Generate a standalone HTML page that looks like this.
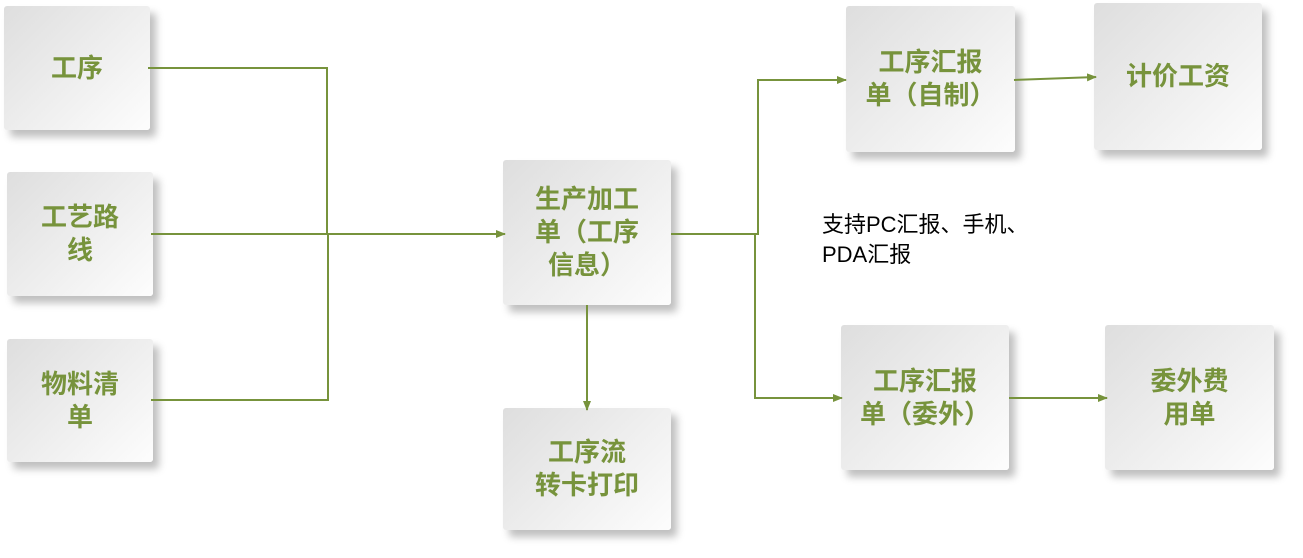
<!DOCTYPE html>
<html><head><meta charset="utf-8"><style>
body{margin:0;width:1303px;height:558px;background:#fff;position:relative;overflow:hidden;font-family:"Liberation Sans","Noto Sans CJK SC",sans-serif}
.b{position:absolute;display:flex;align-items:center;justify-content:center;text-align:center;color:#77933c;font-weight:bold;font-size:26px;line-height:33px;background:linear-gradient(135deg,#dedede,#fdfdfd);border-radius:3px;box-shadow:6px 7px 8px rgba(0,0,0,0.25)}
svg{position:absolute;left:0;top:0}
.t{position:absolute;left:822px;top:210px;font-size:22px;line-height:30px;color:#000}
</style></head><body>
<div class="b" style="left:4px;top:6px;width:146px;height:124px">工序</div>
<div class="b" style="left:7px;top:172px;width:146px;height:124px">工艺路<br>线</div>
<div class="b" style="left:7px;top:339px;width:146px;height:123px">物料清<br>单</div>
<div class="b" style="left:503px;top:160px;width:168px;height:145px">生产加工<br>单（工序<br>信息）</div>
<div class="b" style="left:503px;top:408px;width:168px;height:122px">工序流<br>转卡打印</div>
<div class="b" style="left:846px;top:6px;width:169px;height:146px">工序汇报<br>单（自制）</div>
<div class="b" style="left:1094px;top:3px;width:168px;height:147px">计价工资</div>
<div class="b" style="left:841px;top:325px;width:168px;height:145px">工序汇报<br>单（委外）</div>
<div class="b" style="left:1105px;top:325px;width:169px;height:145px">委外费<br>用单</div>
<svg width="1303" height="558">
<defs><marker id="a" markerWidth="10" markerHeight="10" refX="9" refY="5" orient="auto" markerUnits="userSpaceOnUse"><path d="M0,1 L10,5 L0,9 z" fill="#77933c"/></marker></defs>
<g stroke="#77933c" stroke-width="2" fill="none">
<polyline points="148,68 327,68 327,234"/>
<line x1="151" y1="234" x2="505" y2="234" marker-end="url(#a)"/>
<polyline points="151,400 328,400 328,233"/>
<line x1="587" y1="305" x2="587" y2="410" marker-end="url(#a)"/>
<polyline points="671,234 758,234 758,80 846,80" marker-end="url(#a)"/>
<polyline points="758,234 755,234 755,398 842,398" marker-end="url(#a)"/>
<line x1="1014" y1="80" x2="1096" y2="77" marker-end="url(#a)"/>
<line x1="1009" y1="398" x2="1107" y2="398" marker-end="url(#a)"/>
</g></svg>
<div class="t">支持PC汇报、手机、<br>PDA汇报</div>
</body></html>
